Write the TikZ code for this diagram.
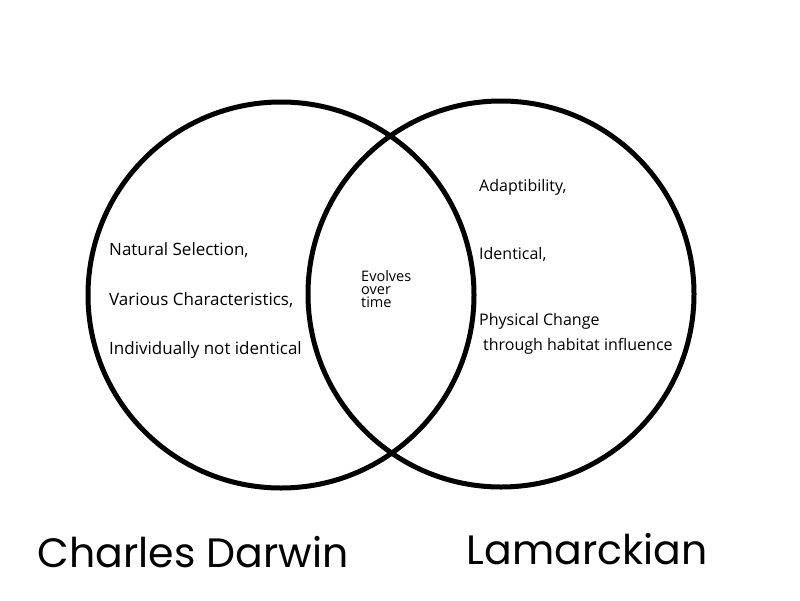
\documentclass[tikz,border=0pt]{standalone}
\usepackage{fontspec}
\setmainfont{Open Sans}
\newfontfamily\titlefont{Poppins}
\begin{document}
\begin{tikzpicture}[x=1pt,y=-1pt,
  ring/.style={draw=black,line width=5pt},
  txt/.style={anchor=west,inner sep=0pt,font=\fontsize{16}{18}\selectfont},
  ltxt/.style={anchor=west,inner sep=0pt,font=\fontsize{17}{19}\selectfont},
  mid/.style={anchor=base west,inner sep=0pt,text height=10.5pt,text depth=0pt,font=\fontsize{14.5}{15}\selectfont},
  title/.style={anchor=center,inner sep=0pt,font=\titlefont\fontsize{41}{44}\selectfont}]
\fill[white] (0,0) rectangle (800,600);
\useasboundingbox (0,0) rectangle (800,600);
\node[ring,circle,minimum size=386pt,inner sep=0pt] (L) at (281,295) {};
\node[ring,circle,minimum size=386pt,inner sep=0pt] (R) at (501,294) {};
\node[ltxt] (a1) at (109,250) {Natural Selection,};
\node[ltxt] (a2) at (109,300) {Various Characteristics,};
\node[ltxt] (a3) at (109,350) {Individually not identical};
\node[mid] (c1) at (361,281) {Evolves};
\node[mid] (c2) at (361,294) {over};
\node[mid] (c3) at (361,307) {time};
\node[txt] (b1) at (479,187) {Adaptibility,};
\node[txt] (b2) at (479,254) {Identical,};
\node[txt] (b3) at (479,321) {Physical Change};
\node[txt] (b4) at (483,346) {through habitat influence};
\node[title] (t1) at (193,552) {Charles Darwin};
\node[title] (t2) at (587,549) {Lamarckian};
\end{tikzpicture}
\end{document}
